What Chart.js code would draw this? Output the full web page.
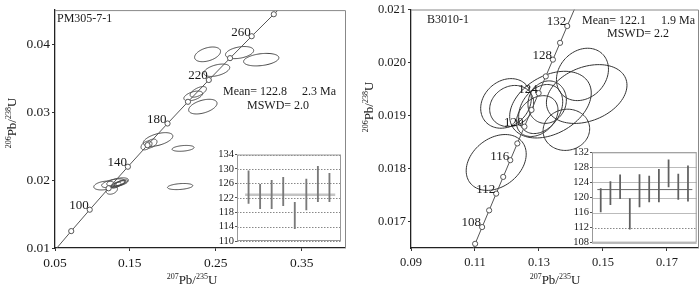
<!DOCTYPE html>
<html><head><meta charset="utf-8">
<script src="https://cdn.jsdelivr.net/npm/chart.js@4.4.1/dist/chart.umd.min.js"></script>
<style>
html,body{margin:0;padding:0;background:#fff;}
#wrap{position:relative;width:700px;height:287px;overflow:hidden;background:#fff;}
canvas{position:absolute;}
</style></head><body>
<div id="wrap">
<canvas id="cL" width="350" height="287" style="left:0;top:0;width:350px;height:287px"></canvas>
<canvas id="cR" width="350" height="287" style="left:350px;top:0;width:350px;height:287px"></canvas>
<canvas id="iL" width="155" height="110" style="left:190px;top:140px;width:155px;height:110px"></canvas>
<canvas id="iR" width="155" height="110" style="left:545px;top:140px;width:155px;height:110px"></canvas>
</div>
<script>
// ---------- LEFT PANEL DATA (PM305-7-1) ----------
const leftCurveAges = [60,80,100,120,140,160,180,200,220,240,260,280,300];
const leftCurve207 = [0.060872,0.081975,0.103498,0.125449,0.147837,0.170670,0.193957,0.217708,0.241930,0.266635,0.291831,0.317529,0.343737];
const leftCurve206 = [0.009351,0.012487,0.015633,0.018789,0.021955,0.025131,0.028316,0.031511,0.034717,0.037932,0.041157,0.044392,0.047637];
const leftMarkerAges = [80,100,120,140,160,180,200,220,240,260,280];
const leftLabelAges = [100,140,180,220,260];
const leftEllX = [0.2405,0.2777,0.3029,0.2512,0.2297,0.2238,0.2350,0.1829,0.1695,0.1753,0.2120,0.2086,0.1205,0.1309,0.1358,0.1291,0.1364,0.1387,0.1341,0.1410];
const leftEllY = [0.03849,0.03875,0.03771,0.03615,0.03297,0.03237,0.03080,0.02596,0.02509,0.02538,0.02466,0.01904,0.01919,0.01952,0.01972,0.01851,0.01939,0.01953,0.01924,0.01960];
const leftEllSX = [0.0151,0.0164,0.0205,0.0151,0.0095,0.0109,0.0165,0.0172,0.0064,0.0064,0.0128,0.0147,0.0123,0.0136,0.0126,0.0066,0.0081,0.0070,0.0058,0.0070];
const leftEllSY = [0.00108,0.00089,0.00092,0.00091,0.00078,0.00072,0.00108,0.00101,0.00065,0.00065,0.00043,0.00045,0.00065,0.00065,0.00060,0.00060,0.00050,0.00043,0.00043,0.00043];
const leftEllRho = [0.4,0.35,0.3,0.45,0.6,0.5,0.45,0.5,0.4,0.4,0.3,0.3,0.3,0.5,0.5,0.3,0.7,0.7,0.6,0.6];
const leftXTickVals = [0.0631,0.15,0.25,0.35];
const leftXTickLabels = ["0.05","0.15","0.25","0.35"];
const leftYTickVals = [0.01,0.02,0.03,0.04];
const leftYTickLabels = ["0.01","0.02","0.03","0.04"];
const leftAgeLow  = [120.4,119.0,119.0,119.8,113.4,118.6,120.9,120.9];
const leftAgeHigh = [129.5,125.7,126.8,127.7,120.7,127.2,130.7,128.8];
const leftMean = 122.8;
const leftInsetTicks = [110,114,118,122,126,130,134];

// ---------- RIGHT PANEL DATA (B3010-1) ----------
const rightCurveAges = [104,106,108,110,112,114,116,118,120,122,124,126,128,130,132,134,136];
const rightCurve207 = [0.107854,0.110038,0.112227,0.114419,0.116617,0.118818,0.121024,0.123234,0.125449,0.127668,0.129891,0.132119,0.134351,0.136588,0.138828,0.141074,0.143324];
const rightCurve206 = [0.016264,0.016579,0.016895,0.017210,0.017526,0.017841,0.018157,0.018473,0.018789,0.019105,0.019422,0.019738,0.020054,0.020371,0.020688,0.021004,0.021321];
const rightMarkerAges = [106,108,110,112,114,116,118,120,122,124,126,128,130,132];
const rightLabelAges = [108,112,116,120,124,128,132];
const rightEllX = [0.11663,0.11969,0.12147,0.13359,0.13256,0.12944,0.13053,0.14359,0.14491,0.13856];
const rightEllY = [0.018114,0.019228,0.019178,0.019205,0.019252,0.018989,0.019122,0.019775,0.019405,0.018730];
const rightEllSX = [0.00938,0.00791,0.00688,0.01275,0.0060,0.0065,0.00688,0.00813,0.01259,0.00728];
const rightEllSY = [0.000527,0.000468,0.000389,0.000629,0.000401,0.000385,0.000463,0.000494,0.000555,0.000389];
const rightEllRho = [0.3,0.2,0.15,0.35,0.1,0.3,0.3,0.2,0.3,0.05];
const rightXTickVals = [0.09,0.11,0.13,0.15,0.17];
const rightXTickLabels = ["0.09","0.11","0.13","0.15","0.17"];
const rightYTickVals = [0.017,0.018,0.019,0.020,0.021];
const rightYTickLabels = ["0.017","0.018","0.019","0.020","0.021"];
const rightAgeLow  = [116.2,118.1,119.7,111.6,117.5,118.8,118.8,122.8,119.5,119.0];
const rightAgeHigh = [122.4,124.2,126.0,119.7,126.1,125.7,127.5,130.0,126.2,128.4];
const rightMean = 122.1;
const rightInsetTicks = [108,112,116,120,124,128,132];

const SERIF = "'Liberation Serif','Times New Roman',serif";
const TXT = '#1a1a1a';

function drawSup(ctx, parts, x, y, rotate) {
  ctx.save();
  ctx.translate(x, y);
  if (rotate) ctx.rotate(-Math.PI/2);
  ctx.fillStyle = TXT;
  ctx.textBaseline = 'alphabetic';
  let w = 0;
  parts.forEach(p => { ctx.font = (p[1] ? '8px ' : '13px ') + SERIF; w += ctx.measureText(p[0]).width; });
  let cx = -w/2;
  parts.forEach(p => {
    ctx.font = (p[1] ? '8px ' : '13px ') + SERIF;
    ctx.fillText(p[0], cx, p[1] ? 0 : 4.5);
    cx += ctx.measureText(p[0]).width;
  });
  ctx.restore();
}

function makeMain(id, p) {
  const curve = p.cx.map((x,i)=>({x:x, y:p.cy[i]}));
  const annot = {
    id: 'annot_'+id,
    beforeDatasetsDraw(chart) {
      const {ctx, chartArea:a, scales:{x, y}} = chart;
      ctx.save();
      ctx.beginPath(); ctx.rect(a.left, a.top, a.right-a.left, a.bottom-a.top); ctx.clip();
      ctx.strokeStyle = p.ellColor; ctx.lineWidth = 1;
      for (let k=0; k<p.ex.length; k++) {
        const r = p.er[k], q = Math.sqrt(1-r*r);
        ctx.beginPath();
        for (let j=0; j<=96; j++) {
          const t = j/96*2*Math.PI;
          const X = p.ex[k] + p.esx[k]*Math.cos(t);
          const Y = p.ey[k] + p.esy[k]*(r*Math.cos(t) + q*Math.sin(t));
          const px = x.getPixelForValue(X), py = y.getPixelForValue(Y);
          if (j===0) ctx.moveTo(px,py); else ctx.lineTo(px,py);
        }
        ctx.closePath(); ctx.stroke();
      }
      ctx.restore();
    },
    afterDatasetsDraw(chart) {
      const {ctx, chartArea:a, scales:{x, y}} = chart;
      ctx.save();
      ctx.strokeStyle = '#888'; ctx.lineWidth = 1;
      ctx.beginPath(); ctx.moveTo(a.left, a.top+0.5); ctx.lineTo(a.right+0.5, a.top+0.5); ctx.lineTo(a.right+0.5, a.bottom); ctx.stroke();
      ctx.fillStyle = TXT; ctx.font = '13px ' + SERIF; ctx.textAlign = 'right'; ctx.textBaseline = 'middle';
      p.labelAges.forEach(age => {
        const i = p.ages.indexOf(age);
        const px = x.getPixelForValue(p.cx[i]), py = y.getPixelForValue(p.cy[i]);
        ctx.fillText(String(age), px - 1, py - 4);
      });
      ctx.textAlign = 'left';
      p.texts.forEach(t => { ctx.font = '12px ' + SERIF; ctx.fillText(t[0], t[1], t[2]); });
      ctx.restore();
      drawSup(ctx, [["207",true],["Pb/",false],["235",true],["U",false]], p.xTitle[0], p.xTitle[1], false);
      drawSup(ctx, [["206",true],["Pb/",false],["238",true],["U",false]], p.yTitle[0], p.yTitle[1], true);
    }
  };
  return new Chart(document.getElementById(id), {
    type: 'scatter',
    data: { datasets: [{
      type: 'line', data: curve, borderColor: '#555', borderWidth: 1, tension: 0, fill: false,
      pointRadius: c => p.markerAges.includes(p.ages[c.dataIndex]) ? 2.6 : 0,
      pointBackgroundColor: '#fff', pointBorderColor: '#555', pointBorderWidth: 1
    }]},
    options: {
      responsive: false, animation: false, devicePixelRatio: 1,
      layout: { padding: { top: p.padTop, right: p.padRight, left: 0, bottom: 0 } },
      plugins: { legend: { display: false }, tooltip: { enabled: false } },
      scales: {
        x: { type: 'linear', min: p.xMin, max: p.xMax,
          afterBuildTicks: s => { s.ticks = p.xTickVals.map(v => ({ value: v })); },
          afterFit: s => { s.height = 39; },
          ticks: { callback: (v, i) => p.xTickLabels[i], font: { family: SERIF, size: p.tickFont }, color: TXT, padding: 4, maxRotation: 0, autoSkip: false },
          grid: { drawOnChartArea: false, drawTicks: true, tickLength: 3, color: '#333' },
          border: { color: '#222', width: 1.3 } },
        y: { type: 'linear', min: p.yMin, max: p.yMax,
          afterBuildTicks: s => { s.ticks = p.yTickVals.map(v => ({ value: v })); },
          afterFit: s => { s.width = p.yAxisW; },
          ticks: { callback: (v, i) => p.yTickLabels[i], font: { family: SERIF, size: p.tickFont }, color: TXT, padding: 2, autoSkip: false },
          grid: { drawOnChartArea: false, drawTicks: true, tickLength: 3, color: '#333' },
          border: { color: '#222', width: 1.3 } }
      }
    },
    plugins: [annot]
  });
}

function makeInset(id, p) {
  const bars = p.lo.map((l, i) => ({ x: i + 1, y: [l, p.hi[i]] }));
  const grid = {
    id: 'grid_'+id,
    beforeDatasetsDraw(chart) {
      const {ctx, chartArea:a, scales:{y}} = chart;
      ctx.save();
      ctx.fillStyle = '#fff'; ctx.fillRect(a.left, a.top, a.right-a.left, a.bottom-a.top);
      p.ticks.forEach(v => {
        const py = Math.round(y.getPixelForValue(v)) + 0.5;
        ctx.strokeStyle = p.dotted(v) ? '#888' : '#bbb';
        ctx.setLineDash(p.dotted(v) ? [1.5, 1.5] : []);
        ctx.lineWidth = 1;
        ctx.beginPath(); ctx.moveTo(a.left, py); ctx.lineTo(a.right, py); ctx.stroke();
      });
      ctx.setLineDash([]);
      ctx.strokeStyle = '#999';
      ctx.strokeRect(a.left+0.5, a.top+0.5, a.right-a.left-1, a.bottom-a.top-1);
      ctx.restore();
    }
  };
  return new Chart(document.getElementById(id), {
    type: 'bar',
    data: { datasets: [
      { type: 'line', data: [{x: p.span[0], y: p.mean}, {x: p.span[1], y: p.mean}], borderColor: p.meanColor, borderWidth: p.meanW, pointRadius: 0, order: 2 },
      { type: 'bar', data: bars, backgroundColor: p.barColor, barThickness: p.barW, borderWidth: 0, order: 1 }
    ]},
    options: {
      responsive: false, animation: false, devicePixelRatio: 1,
      layout: { padding: p.pad },
      plugins: { legend: { display: false }, tooltip: { enabled: false } },
      scales: {
        x: { type: 'linear', display: false, min: p.xMin, max: p.xMax, offset: false },
        y: { type: 'linear', min: p.ticks[0], max: p.ticks[p.ticks.length-1],
          afterBuildTicks: s => { s.ticks = p.ticks.map(v => ({ value: v })); },
          afterFit: s => { s.width = 47; },
          ticks: { font: { family: SERIF, size: 10.5 }, color: TXT, padding: 1, autoSkip: false },
          grid: { drawOnChartArea: false, drawTicks: true, tickLength: 2, color: '#555' },
          border: { display: false } }
      }
    },
    plugins: [grid]
  });
}

makeMain('cL', {
  ages: leftCurveAges, cx: leftCurve207, cy: leftCurve206, markerAges: leftMarkerAges, labelAges: leftLabelAges,
  ex: leftEllX, ey: leftEllY, esx: leftEllSX, esy: leftEllSY, er: leftEllRho, ellColor: '#444',
  xMin: 0.0631, xMax: 0.4003, yMin: 0.01, yMax: 0.045,
  xTickVals: leftXTickVals, xTickLabels: leftXTickLabels, yTickVals: leftYTickVals, yTickLabels: leftYTickLabels,
  padTop: 5, padRight: 5, yAxisW: 55, tickFont: 13.5,
  texts: [["PM305-7-1", 57, 19], ["Mean= 122.8     2.3 Ma", 223, 92], ["MSWD= 2.0", 247, 106]],
  xTitle: [192, 279], yTitle: [11, 123]
});
makeMain('cR', {
  ages: rightCurveAges, cx: rightCurve207, cy: rightCurve206, markerAges: rightMarkerAges, labelAges: rightLabelAges,
  ex: rightEllX, ey: rightEllY, esx: rightEllSX, esy: rightEllSY, er: rightEllRho, ellColor: '#333',
  xMin: 0.09, xMax: 0.1797, yMin: 0.0165, yMax: 0.021,
  xTickVals: rightXTickVals, xTickLabels: rightXTickLabels, yTickVals: rightYTickVals, yTickLabels: rightYTickLabels,
  padTop: 5, padRight: 2, yAxisW: 61, tickFont: 12.5,
  texts: [["B3010-1", 77, 20], ["Mean= 122.1     1.9 Ma", 232, 21], ["MSWD= 2.2", 257, 34]],
  xTitle: [205, 279], yTitle: [18, 107]
});
makeInset('iL', {
  lo: leftAgeLow, hi: leftAgeHigh, mean: leftMean, ticks: leftInsetTicks,
  span: [0.7, 8.5], xMin: 0, xMax: 9, barColor: '#7a7a7a', barW: 1.2, meanColor: '#c4c4c4', meanW: 2.5,
  pad: { top: 14.5, bottom: 9, right: 4, left: 0 }, dotted: v => true
});
makeInset('iR', {
  lo: rightAgeLow, hi: rightAgeHigh, mean: rightMean, ticks: rightInsetTicks,
  span: [0.65, 10.45], xMin: 0.1, xMax: 10.9, barColor: '#606060', barW: 1.1, meanColor: '#666', meanW: 1,
  pad: { top: 12.3, bottom: 6.7, right: 3.3, left: 0 }, dotted: v => v === 112
});
</script>
</body></html>
